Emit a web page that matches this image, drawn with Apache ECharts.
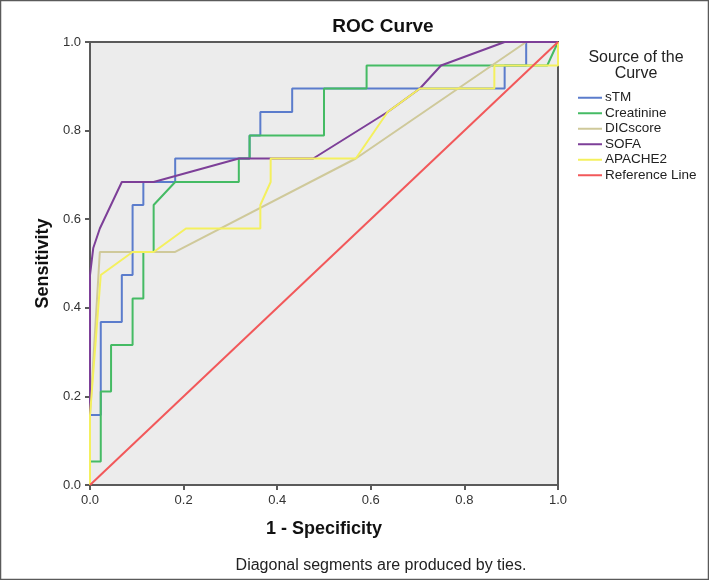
<!DOCTYPE html>
<html>
<head>
<meta charset="utf-8">
<script src="https://cdn.jsdelivr.net/npm/echarts@6/dist/echarts.min.js"></script>
<style>
html,body{margin:0;padding:0;background:#fff;}
#main{width:709px;height:580px;}
</style>
</head>
<body>
<div id="main"></div>
<script>
// ---- data (1 - specificity, sensitivity) ----
const seriesNames = ['sTM', 'Creatinine', 'DICscore', 'SOFA', 'APACHE2', 'Reference Line'];
const xTicks = [0.0, 0.2, 0.4, 0.6, 0.8, 1.0];
const yTicks = [0.0, 0.2, 0.4, 0.6, 0.8, 1.0];

const sTM = [[0,0],[0,0.158],[0.023,0.158],[0.023,0.368],[0.068,0.368],[0.068,0.474],[0.091,0.474],[0.091,0.632],[0.114,0.632],[0.114,0.684],[0.182,0.684],[0.182,0.737],[0.341,0.737],[0.341,0.789],[0.364,0.789],[0.364,0.842],[0.432,0.842],[0.432,0.895],[0.886,0.895],[0.886,0.947],[0.932,0.947],[0.932,1],[1,1]];
const creatinine = [[0,0],[0,0.053],[0.023,0.053],[0.023,0.211],[0.045,0.211],[0.045,0.316],[0.091,0.316],[0.091,0.421],[0.114,0.421],[0.114,0.526],[0.136,0.526],[0.136,0.632],[0.182,0.684],[0.318,0.684],[0.318,0.737],[0.341,0.737],[0.341,0.789],[0.5,0.789],[0.5,0.895],[0.591,0.895],[0.591,0.947],[0.977,0.947],[1,1]];
const dicScore = [[0,0],[0,0.158],[0.021,0.526],[0.182,0.526],[0.568,0.737],[0.932,1],[1,1]];
const sofa = [[0,0],[0,0.474],[0.007,0.535],[0.021,0.579],[0.068,0.684],[0.136,0.684],[0.318,0.737],[0.477,0.737],[0.636,0.842],[0.705,0.895],[0.75,0.947],[0.886,1],[1,1]];
const apache2 = [[0,0],[0,0.158],[0.023,0.474],[0.091,0.526],[0.136,0.526],[0.205,0.579],[0.364,0.579],[0.364,0.632],[0.386,0.684],[0.386,0.737],[0.568,0.737],[0.636,0.842],[0.705,0.895],[0.864,0.895],[0.864,0.947],[1,0.947],[1,1]];
const referenceLine = [[0,0],[1,1]];

const seriesData = [sTM, creatinine, dicScore, sofa, apache2, referenceLine];
const colors = ['#5b7ccc', '#45bb64', '#cfc99a', '#7d3f98', '#f4f05e', '#f2585a'];

const FONT = '"Liberation Sans", Arial, sans-serif';

const chart = echarts.init(document.getElementById('main'), null, {renderer: 'canvas'});
chart.setOption({
  animation: false,
  backgroundColor: '#ffffff',
  grid: {
    left: 90, right: 151, top: 42, bottom: 95,
    show: true, backgroundColor: '#ececec', borderColor: '#5a5a5a', borderWidth: 2
  },
  xAxis: {
    type: 'value', min: 0, max: 1, interval: 0.2,
    name: '1 - Specificity', nameLocation: 'middle', nameGap: 35,
    nameTextStyle: {fontFamily: FONT, fontSize: 18, fontWeight: 'bold', color: '#111'},
    axisLine: {show: true, lineStyle: {color: '#5a5a5a', width: 2}},
    axisTick: {show: true, length: 5, lineStyle: {color: '#5a5a5a', width: 2}},
    axisLabel: {fontFamily: FONT, fontSize: 13, color: '#333', margin: 9,
      formatter: v => xTicks.includes(Math.round(v*10)/10) ? v.toFixed(1) : ''},
    splitLine: {show: false}
  },
  yAxis: {
    type: 'value', min: 0, max: 1, interval: 0.2,
    name: 'Sensitivity', nameLocation: 'middle', nameGap: 37, nameRotate: 90,
    nameTextStyle: {fontFamily: FONT, fontSize: 18, fontWeight: 'bold', color: '#111'},
    axisLine: {show: true, lineStyle: {color: '#5a5a5a', width: 2}},
    axisTick: {show: true, length: 5, lineStyle: {color: '#5a5a5a', width: 2}},
    axisLabel: {fontFamily: FONT, fontSize: 13, color: '#333', margin: 9,
      formatter: v => yTicks.includes(Math.round(v*10)/10) ? v.toFixed(1) : ''},
    splitLine: {show: false}
  },
  legend: {
    orient: 'vertical', left: 578, top: 90, itemGap: 0, padding: 0,
    itemWidth: 24, itemHeight: 2, icon: 'rect',
    textStyle: {fontFamily: FONT, fontSize: 13.5, lineHeight: 15.5, color: '#222', padding: [0,0,0,-2]},
    data: seriesNames
  },
  graphic: [
    {type: 'text', x: 383, y: 27, style: {text: 'ROC Curve', fontFamily: FONT, fontSize: 19, fontWeight: 'bold', fill: '#111', align: 'center', verticalAlign: 'middle'}},
    {type: 'text', x: 636, y: 66, style: {text: 'Source of the\nCurve', fontFamily: FONT, fontSize: 16, lineHeight: 16, fill: '#222', align: 'center', verticalAlign: 'middle'}},
    {type: 'text', x: 381, y: 566, style: {text: 'Diagonal segments are produced by ties.', fontFamily: FONT, fontSize: 16, fill: '#222', align: 'center', verticalAlign: 'middle'}},
    {type: 'rect', shape: {x: 0.5, y: 0.5, width: 708, height: 579}, style: {fill: 'none', stroke: '#5a5a5a', lineWidth: 1.5}}
  ],
  series: seriesNames.map((n, i) => ({
    name: n, type: 'line', data: seriesData[i], showSymbol: false, symbol: 'none',
    color: colors[i], lineStyle: {width: 2, color: colors[i]}, z: 2 + i
  }))
});
</script>
</body>
</html>
